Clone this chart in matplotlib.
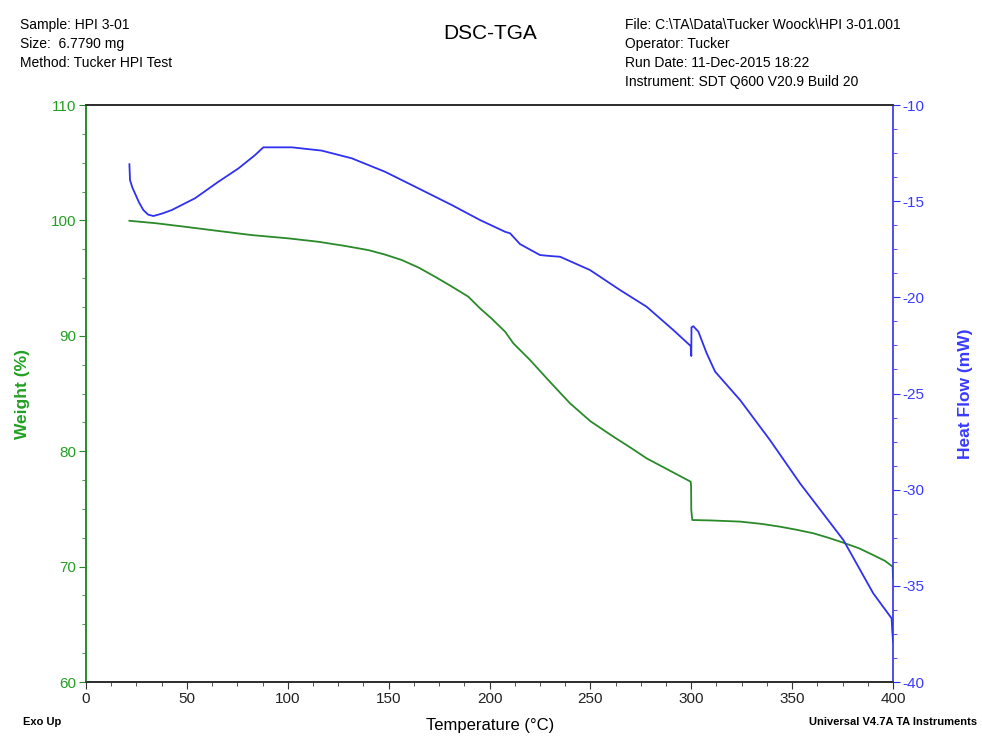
import matplotlib
matplotlib.use("Agg")
import matplotlib.pyplot as plt
from matplotlib.ticker import MultipleLocator

plt.rcParams['font.family'] = ['Liberation Sans', 'DejaVu Sans']
plt.rcParams['axes.unicode_minus'] = False

# TGA weight curve, temperature (°C) vs weight (%)
temp_w = [21.5, 35, 49.1, 65, 82.1, 100, 115.2, 128, 139.9, 148, 156.5, 165,
          173, 181, 189.5, 195.3, 201, 207.7, 211.8, 220.1, 230, 239.9, 250,
          261.4, 270, 277.9, 289, 299.7, 299.9, 300.0, 300.5, 310, 324.2, 335,
          344, 352, 360.5, 368, 375.4, 383, 390.2, 396, 399.8, 400.0]
weight = [99.97, 99.75, 99.45, 99.1, 98.73, 98.45, 98.15, 97.8, 97.43, 97.05,
          96.57, 95.9, 95.12, 94.3, 93.39, 92.38, 91.5, 90.36, 89.35, 87.9,
          86.0, 84.15, 82.6, 81.26, 80.3, 79.38, 78.35, 77.36, 77.0, 74.9, 74.04,
          74.0, 73.9, 73.7, 73.46, 73.2, 72.89, 72.5, 72.07, 71.6, 71.0, 70.5,
          70.0, 69.0]

# DSC heat flow curve, temperature (°C) vs heat flow (mW)
temp_hf = [21.5, 21.8, 23.0, 24.3, 26.2, 28.4, 30.8, 33.4, 37.5, 42.5, 54,
           65.6, 75.5, 83.8, 87.9, 95, 102, 116.8, 131.7, 148.2, 164.7, 181.3,
           195.3, 207.7, 210.2, 215.1, 225, 230, 235, 249.8, 264.7, 277.9,
           291.1, 299.7, 300.0, 300.1, 301.0, 303.5, 307.6, 311.8, 324.2, 339,
           353.9, 375.4, 390.2, 399.3, 399.6, 400.0]
heat_flow = [-13.08, -13.9, -14.3, -14.6, -15.05, -15.46, -15.7, -15.77,
             -15.65, -15.46, -14.85, -13.99, -13.3, -12.6, -12.2, -12.2, -12.2,
             -12.37, -12.77, -13.47, -14.33, -15.2, -15.98, -16.59, -16.67,
             -17.23, -17.8, -17.85, -17.89, -18.58, -19.62, -20.49, -21.7,
             -22.53, -23.05, -21.56, -21.5, -21.78, -22.9, -23.86, -25.34,
             -27.42, -29.67, -32.62, -35.39, -36.69, -37.3, -37.9]

green = '#2a8a2a'
green_txt = '#22a022'
blue = '#3030f0'
blue_txt = '#3a3aff'

fig = plt.figure(figsize=(9.82, 7.37), dpi=100)
ax = fig.add_axes([0.0876, 0.0746, 0.8218, 0.7829])
ax2 = ax.twinx()

ax.plot(temp_w, weight, color=green, lw=1.3)
ax2.plot(temp_hf, heat_flow, color=blue, lw=1.3)

ax.set_xlim(0, 400)
ax.set_ylim(60, 110)
ax2.set_ylim(-40, -10)

ax.xaxis.set_major_locator(MultipleLocator(50))
ax.xaxis.set_minor_locator(MultipleLocator(12.5))
ax.yaxis.set_major_locator(MultipleLocator(10))
ax.yaxis.set_minor_locator(MultipleLocator(2.5))
ax2.yaxis.set_major_locator(MultipleLocator(5))
ax2.yaxis.set_minor_locator(MultipleLocator(1.25))

for s in ('top', 'bottom'):
    ax2.spines[s].set_color('#333333')
ax2.spines['left'].set_color(green)
ax2.spines['right'].set_color(blue)
ax.spines['left'].set_color(green)
ax.spines['right'].set_visible(False)
for a in (ax, ax2):
    for s in a.spines.values():
        s.set_linewidth(1.2)

ax.tick_params(axis='x', which='major', direction='out', length=5, colors='#333333',
               labelsize=11, labelcolor='#222222', pad=2)
ax.tick_params(axis='x', which='minor', direction='out', length=3, colors='#333333')
ax.tick_params(axis='y', which='major', direction='out', length=5, colors=green,
               labelsize=11, labelcolor=green_txt, pad=2)
ax.tick_params(axis='y', which='minor', direction='out', length=3, colors=green)
ax2.tick_params(axis='y', which='major', direction='out', length=5, colors=blue,
                labelsize=11, labelcolor=blue_txt, pad=2)
ax2.tick_params(axis='y', which='minor', direction='out', length=3, colors=blue)

ax.set_ylabel('Weight (%)', color=green_txt, fontsize=12.5, fontweight='bold', labelpad=15)
ax2.set_ylabel('Heat Flow (mW)', color=blue_txt, fontsize=12.5, fontweight='bold', labelpad=24)

# header and footer text
fig.text(0.02, 0.976, 'Sample: HPI 3-01', fontsize=10, va='top')
fig.text(0.02, 0.950, 'Size:  6.7790 mg', fontsize=10, va='top')
fig.text(0.02, 0.924, 'Method: Tucker HPI Test', fontsize=10, va='top')
fig.text(0.499, 0.955, 'DSC-TGA', fontsize=15, ha='center', va='center')
fig.text(0.636, 0.976, 'File: C:\\TA\\Data\\Tucker Woock\\HPI 3-01.001', fontsize=10, va='top')
fig.text(0.636, 0.950, 'Operator: Tucker', fontsize=10, va='top')
fig.text(0.636, 0.924, 'Run Date: 11-Dec-2015 18:22', fontsize=10, va='top')
fig.text(0.636, 0.898, 'Instrument: SDT Q600 V20.9 Build 20', fontsize=10, va='top')

fig.text(0.023, 0.020, 'Exo Up', fontsize=8, va='center', fontweight='bold')
fig.text(0.499, 0.015, 'Temperature (°C)', fontsize=12, ha='center', va='center')
fig.text(0.995, 0.020, 'Universal V4.7A TA Instruments', fontsize=8, ha='right',
         va='center', fontweight='bold')

fig.savefig('out.png', dpi=100)
